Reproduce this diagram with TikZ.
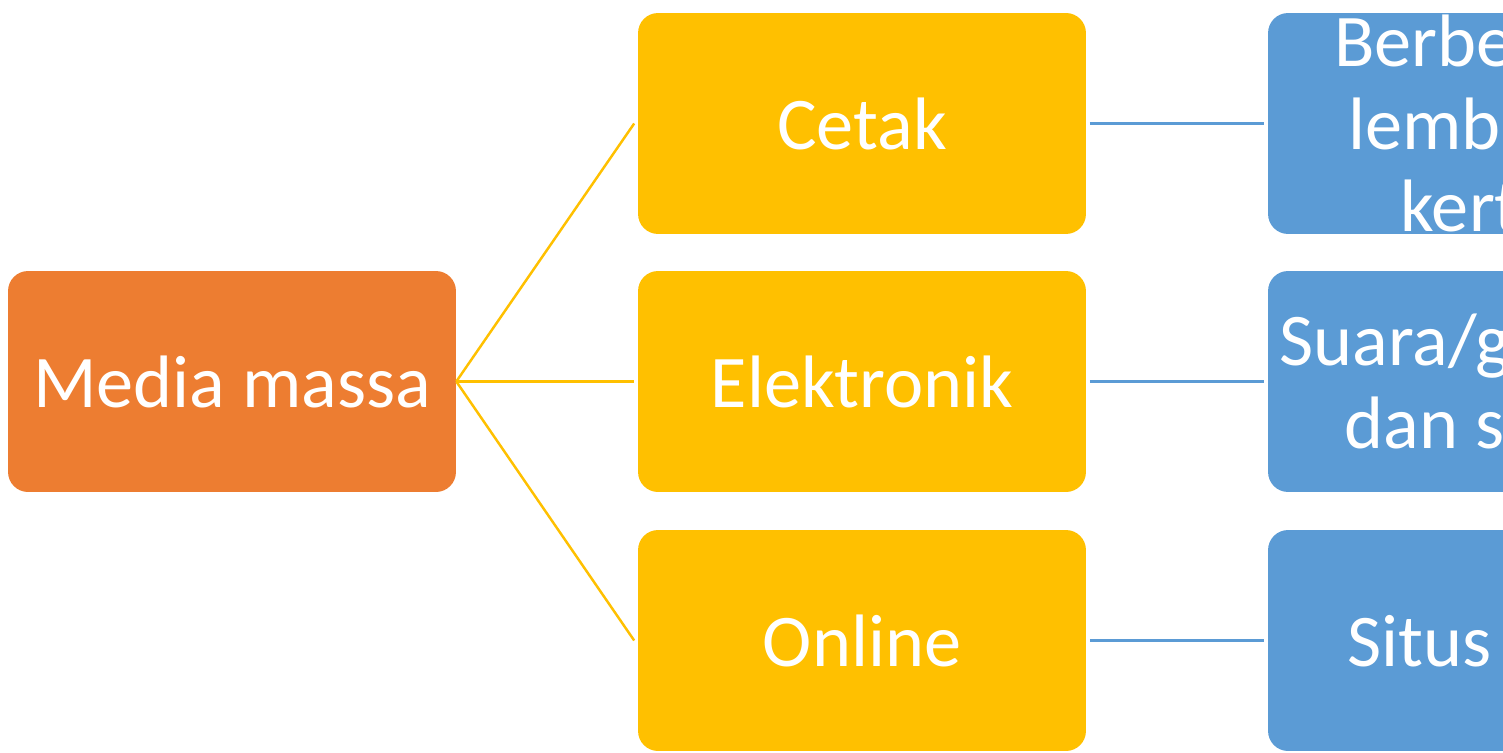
\documentclass[tikz,border=0pt]{standalone}
\usepackage{fontspec}
\setmainfont{Carlito}
\definecolor{cOrange}{HTML}{ED7D31}
\definecolor{cYellow}{HTML}{FFC000}
\definecolor{cBlue}{HTML}{5B9BD5}
\begin{document}
\begin{tikzpicture}[x=0.02cm,y=-0.02cm,
  box/.style={rounded corners=0.4cm, minimum width=8.96cm, minimum height=4.42cm,
    inner sep=0pt, text=white, align=center,
    font=\fontsize{42.3}{47}\selectfont},
  rootbox/.style={box, fill=cOrange},
  midbox/.style={box, fill=cYellow},
  leafbox/.style={box, fill=cBlue},
  yline/.style={draw=cYellow, line width=1.4pt},
  bline/.style={draw=cBlue, line width=1.4pt}]
\useasboundingbox (0,0) rectangle (1503,753);
\clip (0,0) rectangle (1503,753);
\node[rootbox] (m) at (232,381.5) {Media massa};
\node[midbox] (c) at (862,123.5) {Cetak};
\node[midbox] (e) at (862,381.5) {Elektronik};
\node[midbox] (o) at (862,640.5) {Online};
\node[leafbox] (c2) at (1492,123.5) {Berbentuk\\lembaran\\kertas};
\node[leafbox] (e2) at (1492,381.5) {Suara/gambar\\dan suara};
\node[leafbox] (o2) at (1492,640.5) {Situs web};
\draw[yline] (m.east) -- ([xshift=-2]c.west);
\draw[yline] (m.east) -- ([xshift=-2]e.west);
\draw[yline] (m.east) -- ([xshift=-2]o.west);
\draw[bline] ([xshift=2]c.east) -- ([xshift=-2]c2.west);
\draw[bline] ([xshift=2]e.east) -- ([xshift=-2]e2.west);
\draw[bline] ([xshift=2]o.east) -- ([xshift=-2]o2.west);
\end{tikzpicture}
\end{document}
